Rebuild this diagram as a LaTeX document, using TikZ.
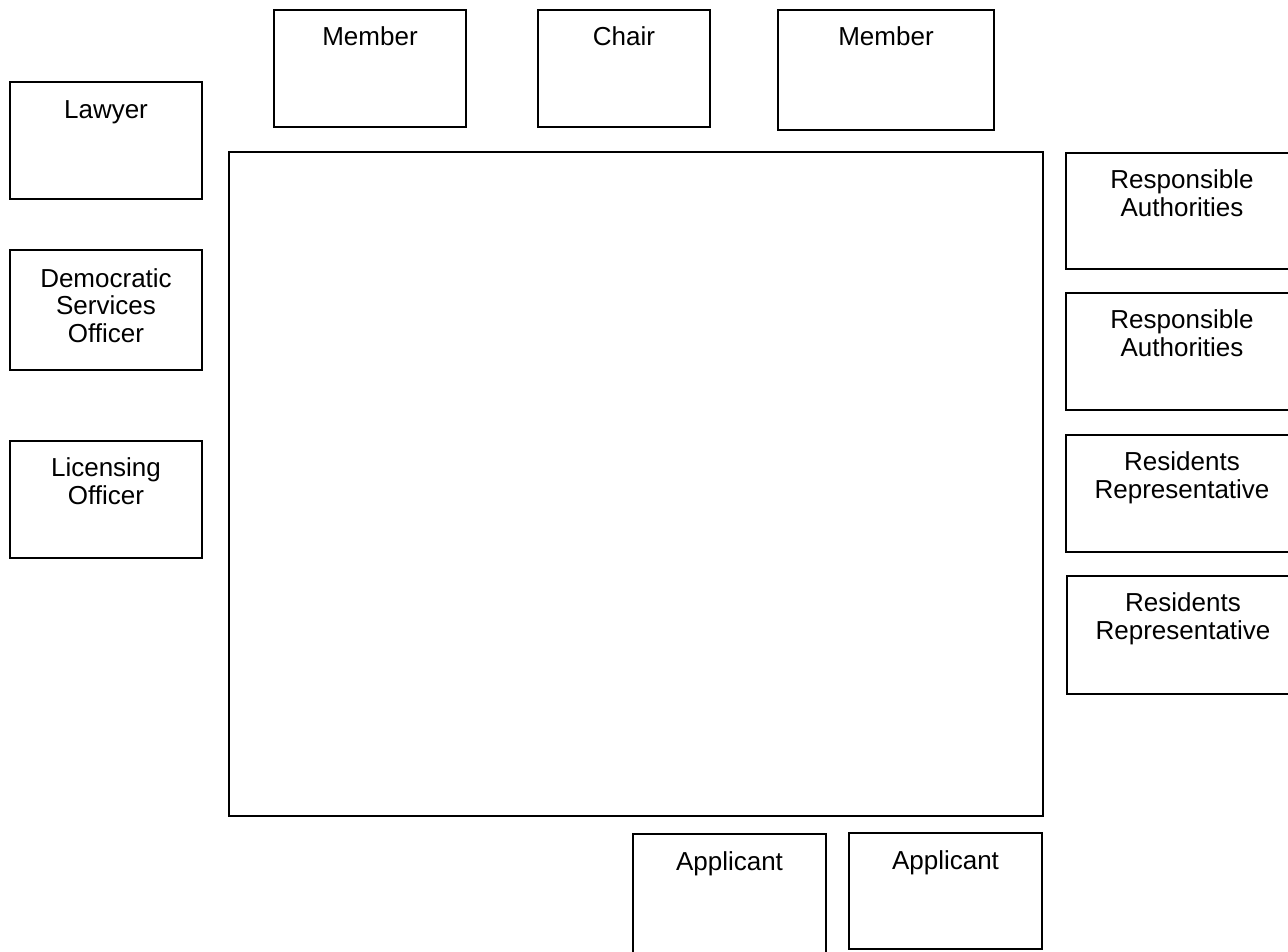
\documentclass[tikz,border=0pt]{standalone}
\usepackage{fontspec}
\setmainfont{Liberation Sans}
\tikzset{
  seat/.style 2 args={draw, rectangle, line width=1.1pt, inner sep=0pt, outer sep=0pt,
    anchor=north west, minimum width=#1*0.75pt, minimum height=#2*0.75pt},
  role/.style={anchor=base, align=center, inner sep=0pt,
    font=\fontsize{19.5pt}{20.6pt}\selectfont}
}
\begin{document}
\begin{tikzpicture}[x=0.75pt, y=-0.75pt]
  \useasboundingbox (0,0) rectangle (1288,951);
  % the hearing table
  \node[seat={814}{664}] (table) at (229,152) {};
  % panel
  \node[seat={192}{117}] (member1) at (274,10) {};
  \node[seat={172}{117}] (chair) at (538,10) {};
  \node[seat={216}{120}] (member2) at (778,10) {};
  % officers
  \node[seat={192}{117}] (lawyer) at (10,82) {};
  \node[seat={192}{120}] (dso) at (10,250) {};
  \node[seat={192}{117}] (licensing) at (10,441) {};
  % other parties
  \node[seat={232}{116}] (ra1) at (1066,153) {};
  \node[seat={232}{117}] (ra2) at (1066,293) {};
  \node[seat={232}{117}] (rr1) at (1066,435) {};
  \node[seat={232}{118}] (rr2) at (1067,576) {};
  \node[seat={193}{130}] (app1) at (633,834) {};
  \node[seat={193}{116}] (app2) at (849,833) {};
  % labels (base anchor sits on the last line)
  \node[role] (member1-t) at ([yshift=-35*0.75pt]member1.north) {Member};
  \node[role] (chair-t) at ([yshift=-35*0.75pt]chair.north) {Chair};
  \node[role] (member2-t) at ([yshift=-35*0.75pt]member2.north) {Member};
  \node[role] (lawyer-t) at ([yshift=-36*0.75pt]lawyer.north) {Lawyer};
  \node[role] (dso-t) at ([yshift=-92*0.75pt]dso.north) {Democratic\\Services\\Officer};
  \node[role] (licensing-t) at ([yshift=-63*0.75pt]licensing.north) {Licensing\\Officer};
  \node[role] (ra1-t) at ([yshift=-63*0.75pt]ra1.north) {Responsible\\Authorities};
  \node[role] (ra2-t) at ([yshift=-63*0.75pt]ra2.north) {Responsible\\Authorities};
  \node[role] (rr1-t) at ([yshift=-63*0.75pt]rr1.north) {Residents\\Representative};
  \node[role] (rr2-t) at ([yshift=-63*0.75pt]rr2.north) {Residents\\Representative};
  \node[role] (app1-t) at ([yshift=-36*0.75pt]app1.north) {Applicant};
  \node[role] (app2-t) at ([yshift=-36*0.75pt]app2.north) {Applicant};
\end{tikzpicture}
\end{document}
